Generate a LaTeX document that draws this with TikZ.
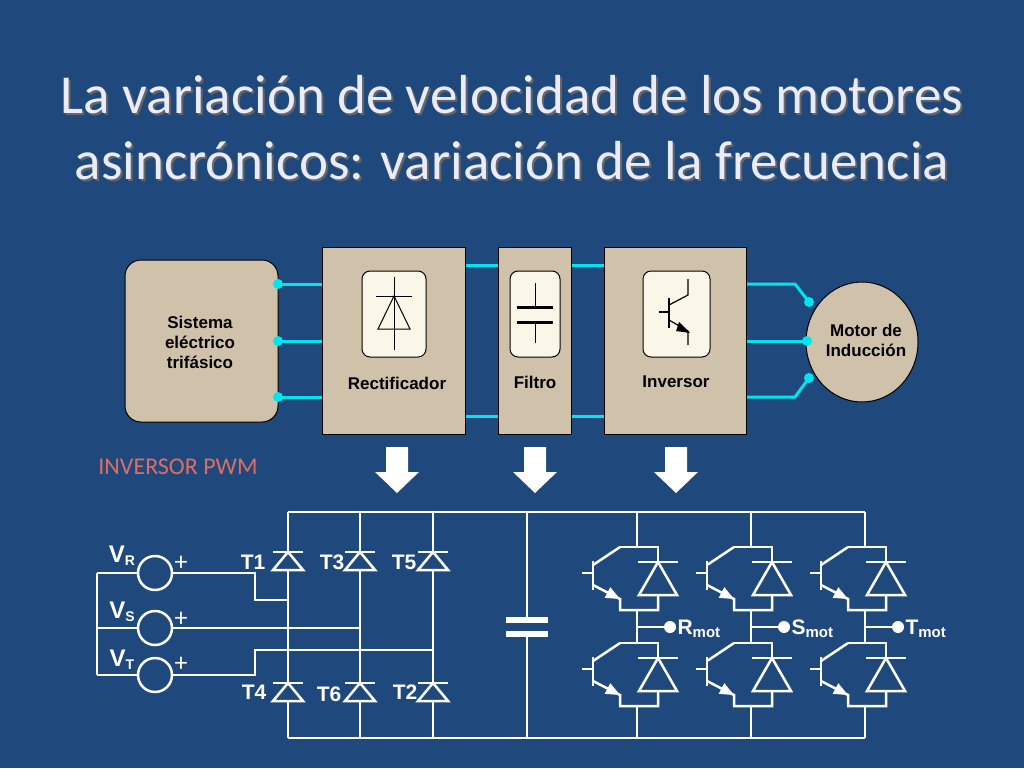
\documentclass[tikz,border=0pt]{standalone}
\usepackage{fontspec}
\setmainfont{Carlito}
\newfontfamily\blockfont{Liberation Sans}
\usetikzlibrary{shapes.geometric}
\definecolor{slidebg}{RGB}{31,73,125}
\definecolor{blocktan}{RGB}{208,194,170}
\definecolor{wirecyan}{RGB}{0,229,238}
\definecolor{innerbox}{RGB}{250,246,232}
\definecolor{pwmred}{RGB}{222,110,100}
\tikzset{
  block/.style={draw=black, fill=blocktan, line width=1pt},
  inner/.style={draw=black, fill=innerbox, rounded corners=8pt, line width=1pt},
  bus/.style={wirecyan, line width=3pt},
  wire/.style={white, line width=2.5pt},
  blocklabel/.style={font=\blockfont\bfseries\fontsize{17}{20}\selectfont, align=center},
  cktlabel/.style={white, font=\blockfont\bfseries\fontsize{21}{24}\selectfont},
  vlabel/.style={white, font=\blockfont\bfseries\fontsize{24}{24}\selectfont},
  downarrow/.style={fill=white, draw=none},
  pics/thyr/.style={code={
    \draw[wire] (-15,-10) -- (15,-10);
    \draw[wire, fill=slidebg] (0,-10) -- (15,8) -- (-15,8) -- cycle;
  }},
  pics/igbt/.style={code={
    % box around transistor and diode
    \draw[wire] (-17,0) -- (21,0) -- (21,15);
    \draw[wire] (-17,0) -- (-44,18);
    \draw[wire] (-44,14) -- (-44,43);
    \draw[wire] (-55,26) -- (-44,26);
    \draw[wire] (-44,38) -- (-17,52) -- (-17,63) -- (21,63) -- (21,48);
    \fill[white] (-17,52) -- (-26.7,40.2) -- (-32.3,50.8) -- cycle;
    \draw[wire] (1,15) -- (41,15);
    \draw[wire] (21,15) -- (40,48) -- (2,48) -- cycle;
  }}
}
\begin{document}
\begin{tikzpicture}[x=1pt, y=-1pt]
  \fill[slidebg] (0,0) rectangle (1024,768);
  \useasboundingbox (0,0) rectangle (1024,768);

  % Title
  \node[text=black!60, font=\fontsize{55}{66}\selectfont, align=center] (titleshadow) at (514,130)
    {La variación de velocidad de los motores\\asincrónicos: variación de la frecuencia};
  \node[text=white!92!blue, font=\fontsize{55}{66}\selectfont, align=center] (title) at (512,128)
    {La variación de velocidad de los motores\\asincrónicos: variación de la frecuencia};

  % Block diagram
  \draw[bus] (465,265) -- (498,265) (465,416) -- (498,416);
  \draw[bus] (571,265) -- (604,265) (571,416) -- (604,416);
  \draw[bus] (278,284) -- (322,284) (278,341) -- (322,341) (278,397) -- (322,397);
  \draw[bus] (746,284) -- (795,284) -- (809,302);
  \draw[bus] (746,341) -- (807,341);
  \draw[bus] (746,397) -- (795,397) -- (809,378);

  \draw[block, rounded corners=16pt] (125,260) rectangle (278,422);
  \node[blocklabel] (sistema) at (200,342) {Sistema\\eléctrico\\trifásico};
  \draw[block] (322,247) rectangle (465,434);
  \draw[block] (498,247) rectangle (571,434);
  \draw[block] (604,247) rectangle (746,434);
  \node[block, ellipse, minimum width=112pt, minimum height=120pt] (motor) at (862,342) {};
  \node[blocklabel] (motorlabel) at (866,340) {Motor de\\Inducción};
  \foreach \y/\x in {284/278, 341/278, 397/278, 302/809, 341/807, 378/809}
    \fill[wirecyan] (\x,\y) circle (5);

  % Rectificador
  \draw[inner] (362,271) rectangle (426,357);
  \draw[line width=1pt] (394,277) -- (394,350) (376,296) -- (412,296);
  \draw[line width=1pt] (394,296) -- (410,329) -- (378,329) -- cycle;
  \node[blocklabel] (rect) at (397,383) {Rectificador};
  % Filtro
  \draw[inner] (510,271) rectangle (560,357);
  \draw[line width=1pt] (535,283) -- (535,307) (535,322) -- (535,343);
  \draw[line width=3pt] (517,307) -- (553,307) (517,322) -- (553,322);
  \node[blocklabel] (filtro) at (535,382) {Filtro};
  % Inversor
  \draw[inner] (643,271) rectangle (710,357);
  \draw[line width=1.2pt] (669,298) -- (669,328) (659,312) -- (669,312);
  \draw[line width=1.2pt] (669,305) -- (688,295) -- (688,279);
  \draw[line width=1.2pt] (669,320) -- (688,331) -- (688,345);
  \fill (690,333) -- (679,322) -- (676,331) -- cycle;
  \node[blocklabel] (inv) at (676,382) {Inversor};

  % Down arrows
  \foreach \x in {397,535,676}
    \fill[downarrow] (\x-11,447) -- (\x+11,447) -- (\x+11,472) -- (\x+22,472)
      -- (\x,493) -- (\x-22,472) -- (\x-11,472) -- cycle;

  \node[text=pwmred, font=\fontsize{24}{26}\selectfont] (pwm) at (178,467) {INVERSOR PWM};

  % Rails
  \draw[wire] (288,512) -- (865,512);
  \draw[wire] (288,738) -- (865,738);
  \foreach \x in {288,360,433} \draw[wire] (\x,512) -- (\x,738);
  \draw[wire] (527,512) -- (527,618) (527,636) -- (527,738);
  \draw[white, line width=6pt] (506,620) -- (548,620) (506,634) -- (548,634);

  % Thyristors
  \foreach \x in {288,360,433} {
    \pic at (\x,562) {thyr};
    \pic at (\x,693) {thyr};
  }
  \node[cktlabel] (t1) at (253,562) {T1};
  \node[cktlabel] (t3) at (332,562) {T3};
  \node[cktlabel] (t5) at (404,562) {T5};
  \node[cktlabel] (t4) at (254,692) {T4};
  \node[cktlabel] (t6) at (329,694) {T6};
  \node[cktlabel] (t2) at (405,692) {T2};

  % Sources
  \draw[wire] (97,573) -- (97,675);
  \node[draw=white, line width=2.5pt, circle, minimum size=34pt, inner sep=0pt] (vr) at (155,573) {};
  \node[draw=white, line width=2.5pt, circle, minimum size=34pt, inner sep=0pt] (vs) at (155,628) {};
  \node[draw=white, line width=2.5pt, circle, minimum size=34pt, inner sep=0pt] (vt) at (155,675) {};
  \draw[wire] (97,573) -- (vr.west) (97,628) -- (vs.west) (97,675) -- (vt.west);
  \draw[wire] (vr.east) -- (255,573) -- (255,600) -- (288,600);
  \draw[wire] (vs.east) -- (360,628);
  \draw[wire] (vt.east) -- (255,675) -- (255,650) -- (433,650);
  \foreach \n/\y in {vr/563, vs/619, vt/664}
    \node[white, font=\fontsize{26}{26}\selectfont] (plus\n) at (181,\y) {+};
  \node[vlabel] (lvr) at (122,556) {V\raisebox{-3pt}{\fontsize{14}{14}\selectfont R}};
  \node[vlabel] (lvs) at (122,612) {V\raisebox{-3pt}{\fontsize{14}{14}\selectfont S}};
  \node[vlabel] (lvt) at (122,660) {V\raisebox{-3pt}{\fontsize{14}{14}\selectfont T}};

  % Inverter legs
  \foreach \x/\ph in {637/R, 751/S, 865/T} {
    \draw[wire] (\x,512) -- (\x,547);
    \pic at (\x,547) {igbt};
    \draw[wire] (\x,610) -- (\x,643);
    \pic at (\x,643) {igbt};
    \draw[wire] (\x,706) -- (\x,738);
    \draw[wire] (\x,627) -- (\x+33,627);
    \fill[white] (\x+33,627) circle (6);
    \node[cktlabel, anchor=west] (\ph mot) at (\x+37,629) {\ph\raisebox{-3pt}{\fontsize{15}{15}\selectfont mot}};
  }
\end{tikzpicture}
\end{document}
